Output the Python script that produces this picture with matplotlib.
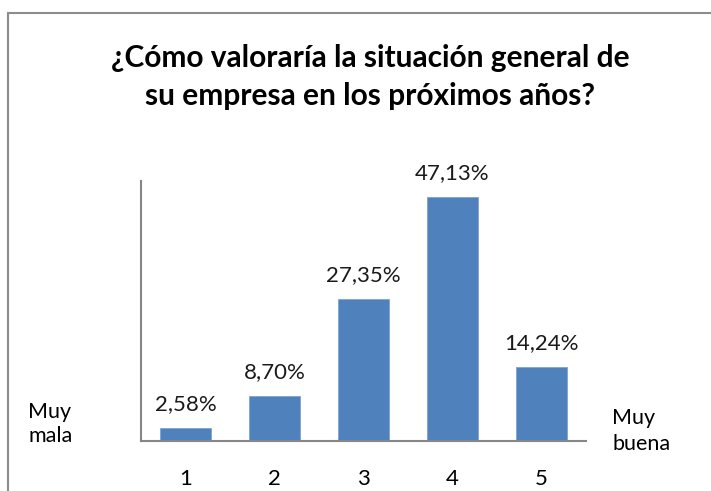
import matplotlib
matplotlib.use("Agg")
import matplotlib.pyplot as plt
from matplotlib.patches import Rectangle

categories = ["1", "2", "3", "4", "5"]
values = [2.58, 8.70, 27.35, 47.13, 14.24]
labels = ["2,58%", "8,70%", "27,35%", "47,13%", "14,24%"]
title = "¿Cómo valoraría la situación general de\nsu empresa en los próximos años?"

plt.rcParams['font.family'] = ['Lato', 'DejaVu Sans']

fig = plt.figure(figsize=(7.11, 4.91), dpi=100)
fig.patch.set_facecolor('white')
ax = fig.add_axes([141/711, 1-441/491, 445/711, 260/491])

x = range(len(categories))
bars = ax.bar(x, values, width=0.575, color='#4F81BD', edgecolor='#7FA3D3', linewidth=0.6)
for xi, v, lab in zip(x, values, labels):
    ax.annotate(lab, (xi, v), xytext=(0, 10), textcoords='offset points',
                ha='center', va='bottom', fontsize=16, color='#1a1a1a')

ax.set_xlim(-0.5, 4.5)
ax.set_ylim(0, 50.2)
ax.set_xticks(list(x))
ax.set_xticklabels(categories, fontsize=16)
ax.tick_params(axis='x', length=0, pad=20)
ax.set_yticks([])
for s in ['top', 'right']:
    ax.spines[s].set_visible(False)
for s in ['left', 'bottom']:
    ax.spines[s].set_color('#868686')
    ax.spines[s].set_linewidth(1.5)

fig.text(370/711, 1-77/491, title, ha='center', va='center', fontsize=21.5,
         fontweight='bold', linespacing=1.4, color='#000000')
fig.text(28/711, 1-424/491, "Muy\nmala", ha='left', va='center', fontsize=15.5, linespacing=1.25)
fig.text(612/711, 1-431/491, "Muy\nbuena", ha='left', va='center', fontsize=15.5, linespacing=1.35)

fig.patches.append(Rectangle((8/711, -0.1), 1.2, 1-13/491+0.1, transform=fig.transFigure,
                             fill=False, edgecolor='#8c8c8c', linewidth=1.5))

fig.savefig("out.png", dpi=100)
